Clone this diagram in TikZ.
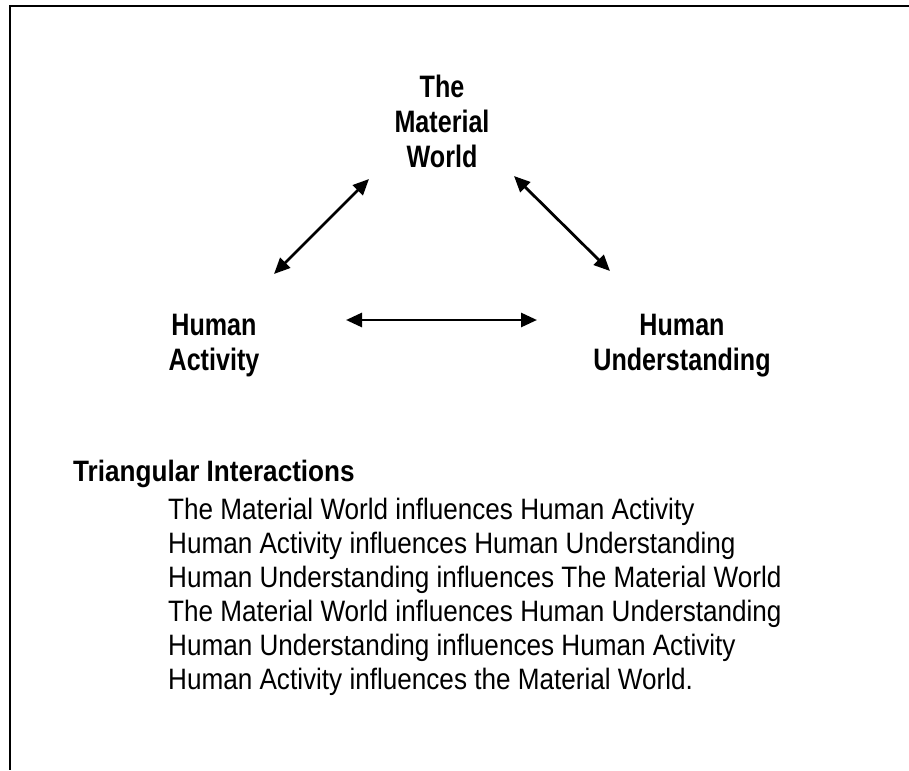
\documentclass[tikz,border=0pt]{standalone}
\usepackage{fontspec}
\setmainfont{Liberation Sans}
\usepackage{graphicx}
\usetikzlibrary{arrows.meta}
\newcommand{\hsq}[2]{\scalebox{#1}[1]{#2}}
\begin{document}
\begin{tikzpicture}[x=1pt,y=-1pt,
  lbl/.style={font=\fontsize{31}{35}\selectfont\bfseries, align=center, inner sep=0pt, anchor=north},
  body/.style={font=\fontsize{29.5}{34}\selectfont, inner sep=0pt, anchor=base west},
  ttl/.style={font=\fontsize{29.5}{34}\selectfont\bfseries, inner sep=0pt, anchor=base west},
  biarrow/.style={{Triangle[length=16pt,width=14pt]}-{Triangle[length=16pt,width=14pt]}, line width=2.8pt},
  frameline/.style={line width=2pt, draw=black}]
\useasboundingbox (0,0) rectangle (909,770);
\fill[white] (0,0) rectangle (909,770);
\draw[frameline] (909,6) -- (9.5,6) -- (9.5,770);

\node[lbl] (mw) at (442,75) {\hsq{0.81}{The}\\\hsq{0.81}{Material}\\\hsq{0.81}{World}};
\node[lbl] (ha) at (214,314) {\hsq{0.81}{Human}\\\hsq{0.81}{Activity}};
\node[lbl] (hu) at (682,314) {\hsq{0.81}{Human}\\\hsq{0.81}{Understanding}};

\coordinate (a1) at (274,274);
\coordinate (a2) at (369,179);
\coordinate (b1) at (514,176);
\coordinate (b2) at (610,271);
\coordinate (c1) at (346,320);
\coordinate (c2) at (537,320);
\draw[biarrow] (a1) -- (a2);
\draw[biarrow] (b1) -- (b2);
\draw[biarrow] (c1) -- (c2);

\node[ttl] (title) at (73,481) {\hsq{0.885}{Triangular Interactions}};
\node[body] (l1) at (168,519.5) {\hsq{0.885}{The Material World influences Human Activity}};
\node[body] (l2) at (168,553.5) {\hsq{0.885}{Human Activity influences Human Understanding}};
\node[body] (l3) at (168,587.5) {\hsq{0.885}{Human Understanding influences The Material World}};
\node[body] (l4) at (168,621.5) {\hsq{0.885}{The Material World influences Human Understanding}};
\node[body] (l5) at (168,655.5) {\hsq{0.885}{Human Understanding influences Human Activity}};
\node[body] (l6) at (168,689.5) {\hsq{0.885}{Human Activity influences the Material World.}};
\end{tikzpicture}
\end{document}
